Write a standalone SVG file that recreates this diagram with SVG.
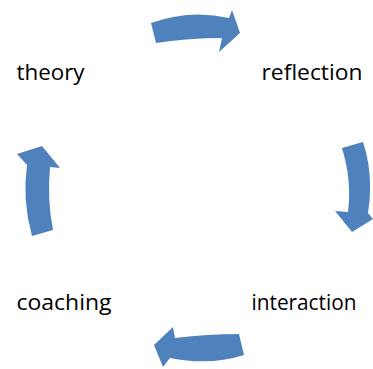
<svg xmlns="http://www.w3.org/2000/svg" width="373" height="369" viewBox="0 0 373 369">
  <style>
    .arrow { fill: #4f81bd; stroke: none; }
    .label { font-family: "Open Sans", "Liberation Sans", sans-serif; font-size: 22px; fill: #000; }
  </style>
  <rect width="373" height="369" fill="#ffffff"/>

  <g id="theory"><text class="label" x="16.5" y="80" textLength="68" lengthAdjust="spacingAndGlyphs">theory</text></g>
  <g id="reflection"><text class="label" x="261.5" y="80" textLength="101" lengthAdjust="spacingAndGlyphs">reflection</text></g>
  <g id="interaction"><text class="label" x="251.5" y="310" textLength="105" lengthAdjust="spacingAndGlyphs">interaction</text></g>
  <g id="coaching"><text class="label" x="16.5" y="310" textLength="95" lengthAdjust="spacingAndGlyphs">coaching</text></g>

  <g id="connectors">
    <!-- theory to reflection -->
    <path class="arrow" d="M151,23 Q190,9 229,18 L232,10 L240,33 L219,52 L222,38 Q190,38 156,43 Z"/>
    <!-- reflection to interaction -->
    <path class="arrow" d="M342,148 Q352,180 348,212 L335,211 L352,232 L373,219 L368,213 Q374,175 363,142 Z"/>
    <!-- interaction to coaching -->
    <path class="arrow" d="M239,334 Q208,334 175,338 L173,327 L154,345 L163,367 L170,358 Q210,366 244,355 Z"/>
    <!-- coaching to theory -->
    <path class="arrow" d="M32,236 Q22,200 27,165 L17,154 L42,146 L60,168 L50,167 Q47,200 53,230 Z"/>
  </g>
</svg>
